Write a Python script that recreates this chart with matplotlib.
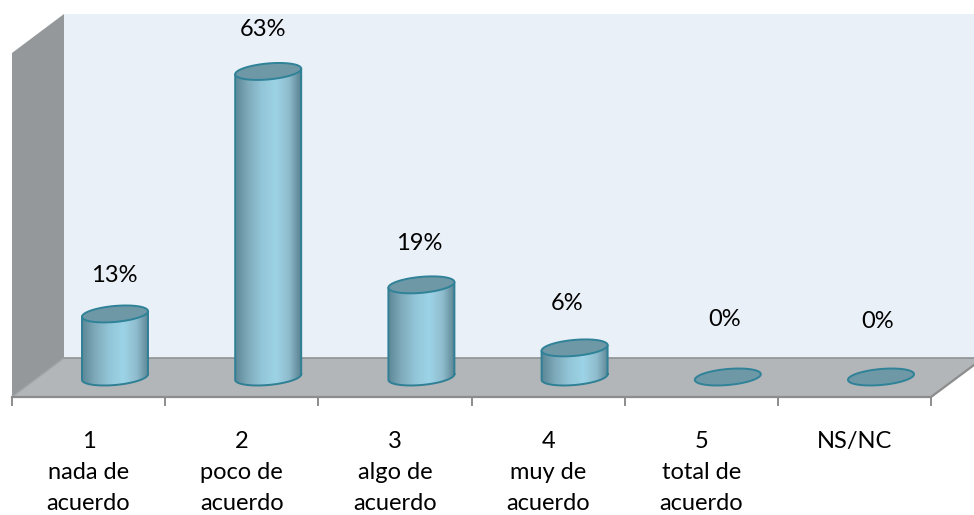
import matplotlib
matplotlib.use('Agg')
import matplotlib.pyplot as plt
import numpy as np
from matplotlib.colors import LinearSegmentedColormap
from matplotlib.patches import PathPatch, Polygon
from matplotlib.path import Path

plt.rcParams['font.family'] = ['Lato', 'DejaVu Sans']

# datos
categorias = ['1\nnada de\nacuerdo', '2\npoco de\nacuerdo', '3\nalgo de\nacuerdo',
              '4\nmuy de\nacuerdo', '5\ntotal de\nacuerdo', 'NS/NC']
valores = [13, 63, 19, 6, 0, 0]
etiquetas = ['13%', '63%', '19%', '6%', '0%', '0%']

# ajuste fino de las etiquetas, en pixeles
etiqueta_dx = [-1, -5, -2, -8, -3, -3]
etiqueta_y = [275, 30, 244, 304, 319, 322]

# geometria de la imagen, en pixeles
W, H = 974, 515
X0, PASO = 115.0, 153.2    # centro de la primera barra y separacion
Y0, ESCALA = 377.0, 4.85   # linea base y pixeles por cada 1%
A, B, K = 33.0, 8.0, -0.085  # radios del cilindro e inclinacion

fig = plt.figure(figsize=(W / 100, H / 100), dpi=100)

# fondo en pixeles
bg = fig.add_axes([0, 0, 1, 1])
bg.set_xlim(0, W)
bg.set_ylim(H, 0)
bg.axis('off')

bg.add_patch(Polygon([(64, 14), (974, 14), (974, 358), (64, 358)], fc='#e9f0f7', ec='none'))
bg.add_patch(Polygon([(12, 53), (64, 14), (64, 358), (12, 397)], fc='#94989a', ec='none'))
bg.add_patch(Polygon([(12, 397), (64, 358), (974, 358), (974, 365), (931, 397)], fc='#b2b6b9', ec='none'))
bg.plot([64, 974], [357.5, 357.5], color='#8f9395', lw=1.2)
bg.plot([64, 12], [358, 397], color='#a0a4a6', lw=1)
bg.plot([12, 931, 974], [397, 397, 365], color='#8c8c8c', lw=1.6)
for i in range(7):
    xt = 12 + PASO * i
    bg.plot([xt, xt], [397, 405], color='#8c8c8c', lw=1.4)

# barras en unidades de categoria y porcentaje
ax = fig.add_axes([0, 0, 1, 1])
ax.patch.set_alpha(0)
ax.axis('off')
ax.set_xlim((0 - X0) / PASO, (W - X0) / PASO)
ax.set_ylim((Y0 - H) / ESCALA, Y0 / ESCALA)

cmap = LinearSegmentedColormap.from_list('cil', [
    (0.0, '#5b8797'), (0.2, '#7fabbb'), (0.4, '#92c5d8'), (0.62, '#9dd3e6'),
    (0.82, '#8fbccd'), (1.0, '#5a8392')])
grad = np.linspace(0, 1, 200).reshape(1, -1)

t = np.linspace(0, 2 * np.pi, 121)
ex = A * np.cos(t)
ey = B * np.sin(t) + K * ex   # y de pantalla, hacia abajo


def elipse(i, v):
    return i + ex / PASO, v - ey / ESCALA


for i, v in enumerate(valores):
    tx, ty = elipse(i, v)
    if v > 0:
        # cuerpo: mitad inferior de la base y lado opuesto arriba
        media = np.linspace(0, np.pi, 61)
        bx = A * np.cos(media)
        by = B * np.sin(media) + K * bx
        xs = np.r_[i + bx / PASO, i - A / PASO, i + A / PASO]
        ys = np.r_[-by / ESCALA, v + K * A / ESCALA, v - K * A / ESCALA]
        cuerpo = PathPatch(Path(np.c_[xs, ys], closed=False), fc='none', ec='none')
        ax.add_patch(cuerpo)
        im = ax.imshow(grad, cmap=cmap, aspect='auto', zorder=2,
                       extent=(i - A / PASO, i + A / PASO, -3, v + 3))
        im.set_clip_path(cuerpo)
        ax.plot(np.r_[xs, xs[0]], np.r_[ys, ys[0]], color='#2f7f95', lw=1.4, zorder=3)
    ax.fill(tx, ty, fc='#6e98a6', ec='#2f8298', lw=1.4, zorder=4)

# imshow cambia los limites
ax.set_xlim((0 - X0) / PASO, (W - X0) / PASO)
ax.set_ylim((Y0 - H) / ESCALA, Y0 / ESCALA)

# etiquetas
for i, txt in enumerate(etiquetas):
    bg.text(X0 + PASO * i + etiqueta_dx[i], etiqueta_y[i], txt, ha='center', va='center',
            fontsize=17, color='black', zorder=6)

for i, cat in enumerate(categorias):
    bg.text(88.5 + PASO * i, 431, cat, ha='center', va='top', fontsize=17,
            color='black', linespacing=1.6, zorder=6)

fig.savefig('out.png', dpi=100)
